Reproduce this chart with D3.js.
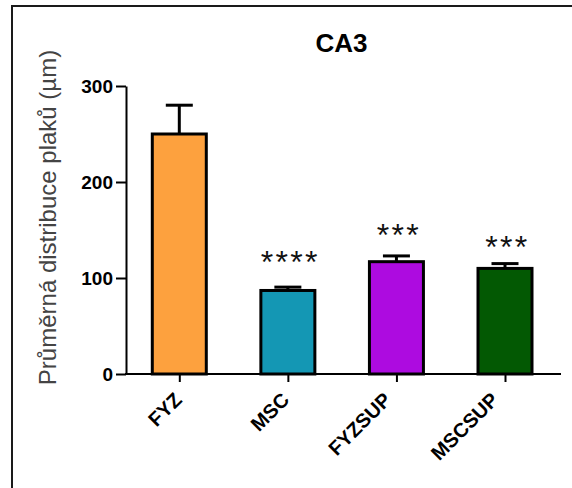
<!DOCTYPE html>
<html>
<head>
<meta charset="utf-8">
<script src="https://cdn.jsdelivr.net/npm/d3@7"></script>
<style>
  html, body { margin: 0; padding: 0; background: #fff; }
  svg { display: block; }
  text { font-family: "Liberation Sans", Arial, sans-serif; }
</style>
</head>
<body>
<svg id="chart" width="572" height="488"></svg>
<script>
// ---- data ----
const categories = ["FYZ", "MSC", "FYZSUP", "MSCSUP"];
const means = [250, 87, 117, 110];
const errors = [30, 3.5, 6, 5];
const significance = ["", "****", "***", "***"];
const sigLevels = [null, 124, 153, 140];
const yTicks = [0, 100, 200, 300];
const colors = ["#FDA13E", "#1497B4", "#AD0BE0", "#035903"];
const title = "CA3";
const yLabel = "Průměrná distribuce plaků (µm)";

// ---- layout ----
const svg = d3.select("#chart");
const W = 572, H = 488;

// frame
svg.append("rect")
  .attr("x", 12).attr("y", 6)
  .attr("width", W + 20).attr("height", H + 20)
  .attr("fill", "none").attr("stroke", "#1a1a1a").attr("stroke-width", 2);

const y = d3.scaleLinear().domain([0, 300]).range([374, 86]);
const x = d3.scalePoint().domain(categories).range([179.3, 505]);
const axisX = 126, axisEnd = 561;
const barW = 54;

// y axis
const yAxis = svg.append("g")
  .attr("transform", `translate(${axisX},0)`)
  .call(d3.axisLeft(y).tickValues(yTicks).tickSize(10).tickPadding(3).tickSizeOuter(0));
yAxis.select(".domain").attr("stroke", "#000").attr("stroke-width", 2);
yAxis.selectAll(".tick line").attr("stroke", "#000").attr("stroke-width", 2);
yAxis.selectAll(".tick text")
  .attr("font-size", 19).attr("font-weight", "bold").attr("fill", "#000")
  .attr("dy", "0.36em")
  .style("font-family", "'Liberation Sans', Arial, sans-serif");

// x axis
const xAxis = svg.append("g")
  .attr("transform", `translate(0,${y(0)})`)
  .call(d3.axisBottom(x).tickSize(8).tickSizeOuter(0).tickFormat(""));
xAxis.select(".domain").remove();
xAxis.selectAll(".tick line").attr("stroke", "#000").attr("stroke-width", 2);
xAxis.append("line")
  .attr("x1", axisX - 1).attr("x2", axisEnd)
  .attr("y1", 0).attr("y2", 0)
  .attr("stroke", "#000").attr("stroke-width", 2);

// x labels rotated
const xl = svg.append("g").selectAll("text")
  .data(categories)
  .join("text")
  .attr("text-anchor", "end")
  .attr("font-size", 20).attr("font-weight", "bold").attr("fill", "#000")
  .text(d => d);
xl.each(function(d) {
  const L = this.getComputedTextLength();
  const ax = x(d) + 11 - 0.19 * L;
  d3.select(this).attr("transform", `translate(${ax},${y(0) + 27}) rotate(-45)`);
});

// error bars (behind bars)
const eb = svg.append("g");
categories.forEach((c, i) => {
  eb.append("line")
    .attr("x1", x(c)).attr("x2", x(c))
    .attr("y1", y(means[i])).attr("y2", y(means[i] + errors[i]))
    .attr("stroke", "#000").attr("stroke-width", 3);
  eb.append("line")
    .attr("x1", x(c) - 13.5).attr("x2", x(c) + 13.5)
    .attr("y1", y(means[i] + errors[i])).attr("y2", y(means[i] + errors[i]))
    .attr("stroke", "#000").attr("stroke-width", 3);
});

// bars
svg.append("g").selectAll("rect")
  .data(categories)
  .join("rect")
  .attr("x", d => x(d) - barW / 2)
  .attr("width", barW)
  .attr("y", (d, i) => y(means[i]))
  .attr("height", (d, i) => y(0) - y(means[i]))
  .attr("fill", (d, i) => colors[i])
  .attr("stroke", "#000").attr("stroke-width", 3);

// redraw baseline on top
svg.append("line")
  .attr("x1", axisX - 1).attr("x2", axisEnd)
  .attr("y1", y(0)).attr("y2", y(0))
  .attr("stroke", "#000").attr("stroke-width", 2);

// significance stars
svg.append("g").selectAll("text")
  .data(categories.filter((c, i) => significance[i]))
  .join("text")
  .attr("x", d => x(d) + 2.5)
  .attr("y", d => y(sigLevels[categories.indexOf(d)]) + 18.5)
  .attr("text-anchor", "middle")
  .attr("font-size", 32)
  .attr("letter-spacing", "2.3px")
  .attr("fill", "#111")
  .text(d => significance[categories.indexOf(d)]);

// title
svg.append("text")
  .attr("x", 341.5).attr("y", 51.5)
  .attr("text-anchor", "middle")
  .attr("font-size", 26).attr("font-weight", "bold").attr("fill", "#000")
  .text(title);

// y label
svg.append("text")
  .attr("transform", "translate(56,217.5) rotate(-90)")
  .attr("text-anchor", "middle")
  .attr("font-size", 24).attr("fill", "#444")
  .text(yLabel);
</script>
</body>
</html>
